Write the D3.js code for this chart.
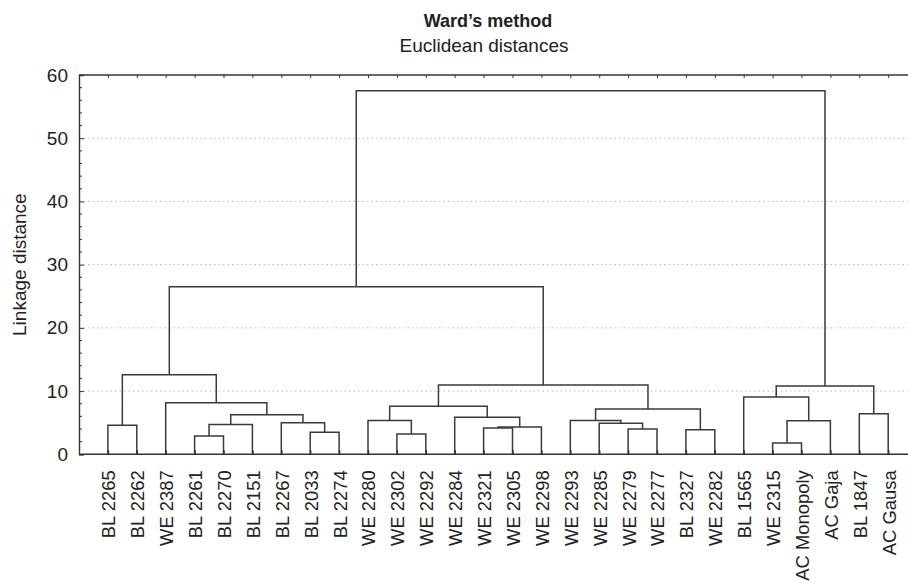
<!DOCTYPE html>
<html>
<head>
<meta charset="utf-8">
<script src="https://cdn.jsdelivr.net/npm/d3@7"></script>
<style>
  body { margin: 0; background: #fff; }
  svg { display: block; font-family: "Liberation Sans", Arial, sans-serif; }
</style>
</head>
<body>
<div id="chart"></div>
<script>
// leaf labels in dendrogram order
const leaves = ["BL 2265", "BL 2262", "WE 2387", "BL 2261", "BL 2270", "BL 2151", "BL 2267", "BL 2033",
  "BL 2274", "WE 2280", "WE 2302", "WE 2292", "WE 2284", "WE 2321", "WE 2305", "WE 2298", "WE 2293",
  "WE 2285", "WE 2279", "WE 2277", "BL 2327", "WE 2282", "BL 1565", "WE 2315", "AC Monopoly", "AC Gaja",
  "BL 1847", "AC Gausa"];

// merges: [left, right, distance]; ids >= 28 point to earlier merges (28 + index)
const merges = [
  [0, 1, 4.6],     // 28
  [3, 4, 2.9],     // 29
  [29, 5, 4.7],    // 30
  [7, 8, 3.5],     // 31
  [6, 31, 5.0],    // 32
  [30, 32, 6.25],  // 33
  [2, 33, 8.15],   // 34
  [28, 34, 12.6],  // 35
  [10, 11, 3.2],   // 36
  [9, 36, 5.35],   // 37
  [13, 14, 4.15],  // 38
  [38, 15, 4.3],   // 39
  [12, 39, 5.85],  // 40
  [37, 40, 7.6],   // 41
  [18, 19, 4.0],   // 42
  [17, 42, 4.9],   // 43
  [16, 43, 5.35],  // 44
  [20, 21, 3.9],   // 45
  [44, 45, 7.15],  // 46
  [41, 46, 10.95], // 47
  [35, 47, 26.5],  // 48
  [23, 24, 1.8],   // 49
  [49, 25, 5.3],   // 50
  [22, 50, 9.05],  // 51
  [26, 27, 6.4],   // 52
  [51, 52, 10.8],  // 53
  [48, 53, 57.5]   // 54
];

const yTicks = [0, 10, 20, 30, 40, 50, 60];

const width = 908, height = 583;
const margin = {top: 75, left: 79, bottom: 128};
const fontSize = "19px";

const svg = d3.select("#chart").append("svg")
  .attr("width", width)
  .attr("height", height);

const x = d3.scaleLinear().domain([0, 29]).range([margin.left, margin.left + 29 * 28.9]);
const y = d3.scaleLinear().domain([0, 60]).range([height - margin.bottom - 0.7, margin.top]);

const lineColor = "#353d3b";

// grid lines
svg.append("g")
  .selectAll("line")
  .data(yTicks.filter(d => d > 0 && d < 60))
  .enter().append("line")
  .attr("x1", margin.left).attr("x2", width)
  .attr("y1", d => y(d)).attr("y2", d => y(d))
  .attr("stroke", "#bbb")
  .attr("stroke-width", 1)
  .attr("stroke-dasharray", "1.5,3");

// positions of nodes
const n = leaves.length;
const nodeX = leaves.map((d, i) => x(i + 1));
const nodeH = leaves.map(() => 0);
merges.forEach(m => {
  nodeX.push((nodeX[m[0]] + nodeX[m[1]]) / 2);
  nodeH.push(m[2]);
});

// dendrogram links
const links = svg.append("g")
  .attr("fill", "none")
  .attr("stroke", lineColor)
  .attr("stroke-width", 1.5);

links.selectAll("path")
  .data(merges)
  .enter().append("path")
  .attr("d", m => {
    const a = m[0], b = m[1], h = y(m[2]);
    return `M${nodeX[a]},${y(nodeH[a])}V${h}H${nodeX[b]}V${y(nodeH[b])}`;
  });

// axes
const axisColor = "#333";
const axisLeft = d3.axisLeft(y).tickValues(yTicks).tickSize(-5).tickPadding(11);
const gy = svg.append("g")
  .attr("transform", `translate(${margin.left},0)`)
  .call(axisLeft);
gy.select(".domain").attr("stroke", axisColor).attr("stroke-width", 1.4);
gy.selectAll(".tick line").attr("stroke", axisColor);
gy.selectAll(".tick text")
  .attr("fill", "#222")
  .style("font-size", fontSize);

// minor ticks
svg.append("g")
  .selectAll("line")
  .data(d3.range(2, 60, 2).filter(d => d % 10 !== 0))
  .enter().append("line")
  .attr("x1", margin.left).attr("x2", margin.left + 3)
  .attr("y1", d => y(d)).attr("y2", d => y(d))
  .attr("stroke", axisColor);

// bottom axis with leaf labels
const gx = svg.append("g")
  .attr("transform", `translate(0,${y(0)})`)
  .call(d3.axisBottom(x).tickValues(d3.range(1, n + 1)).tickSize(-4).tickFormat(""));
gx.select(".domain").attr("d", `M${margin.left},0H${width}`).attr("stroke", axisColor).attr("stroke-width", 1.6);
gx.selectAll(".tick line").attr("stroke", axisColor).attr("stroke-width", 1.5);

svg.append("g")
  .selectAll("text")
  .data(leaves)
  .enter().append("text")
  .attr("transform", (d, i) => `translate(${x(i + 1) + 1},${y(0) + 16}) rotate(-90)`)
  .attr("text-anchor", "end")
  .attr("dy", "0.35em")
  .attr("fill", "#222")
  .style("font-size", "18.4px")
  .text(d => d);

// top axis
const gt = svg.append("g")
  .attr("transform", `translate(0,${margin.top})`)
  .call(d3.axisTop(x).tickValues(d3.range(1, n + 1)).tickSize(-3).tickFormat(""));
gt.select(".domain").attr("d", `M${margin.left},0H${width}`).attr("stroke", axisColor).attr("stroke-width", 1.4);
gt.selectAll(".tick line").attr("stroke", axisColor);

// y axis title
svg.append("text")
  .attr("transform", `translate(26,${y(30)}) rotate(-90)`)
  .attr("text-anchor", "middle")
  .attr("fill", "#222")
  .style("font-size", fontSize)
  .text("Linkage distance");

// titles
svg.append("text")
  .attr("x", 488).attr("y", 27)
  .attr("text-anchor", "middle")
  .attr("font-weight", "bold")
  .attr("fill", "#222")
  .style("font-size", "18px")
  .text("Ward’s method");

svg.append("text")
  .attr("x", 484).attr("y", 52)
  .attr("text-anchor", "middle")
  .attr("fill", "#222")
  .style("font-size", fontSize)
  .text("Euclidean distances");
</script>
</body>
</html>
